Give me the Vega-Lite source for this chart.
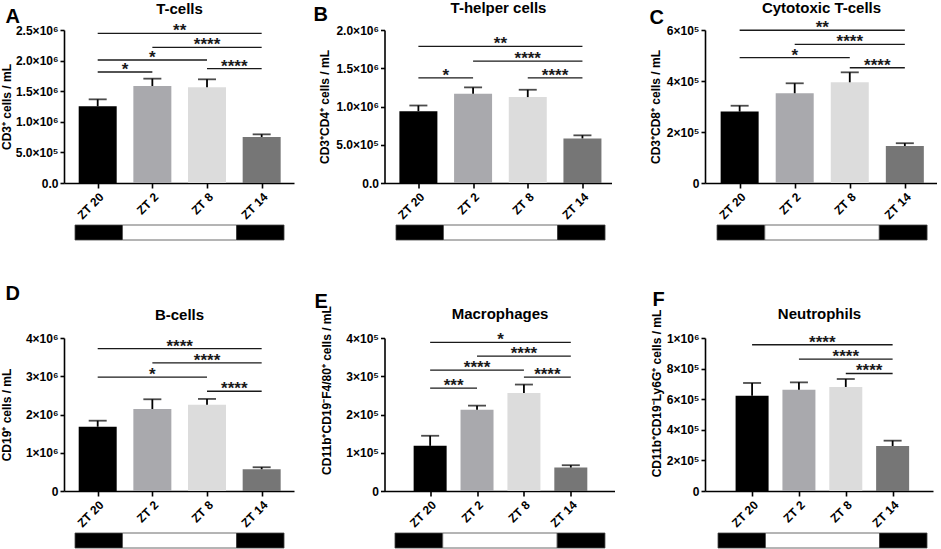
{
  "$schema": "https://vega.github.io/schema/vega-lite/v6.json",
  "background": "white",
  "padding": {"left": 0, "top": 0, "right": 0, "bottom": 0},
  "config": {
    "font": "Liberation Sans",
    "view": {"stroke": null},
    "axis": {
      "grid": false,
      "domainColor": "black",
      "domainWidth": 1.6,
      "tickColor": "black",
      "tickWidth": 1.6,
      "labelColor": "black",
      "labelFontWeight": "bold",
      "labelFontSize": 12,
      "labelOverlap": false,
      "labelFlush": false,
      "titleColor": "black",
      "titleFontWeight": "bold",
      "titleFontSize": 12
    },
    "axisX": {"tickSize": 5, "labelPadding": 3, "labelAngle": -45},
    "axisY": {"tickSize": 4, "labelPadding": 2, "titleBaseline": "middle", "tickCount": 12}
  },
  "datasets": {
    "bars": [
      {"panel": "A", "zt": "ZT 20", "hour": 20, "mean": 1253000, "upper": 1367000},
      {"panel": "A", "zt": "ZT 2", "hour": 26, "mean": 1585000, "upper": 1705000},
      {"panel": "A", "zt": "ZT 8", "hour": 32, "mean": 1563000, "upper": 1694000},
      {"panel": "A", "zt": "ZT 14", "hour": 38, "mean": 752000, "upper": 795000},
      {"panel": "B", "zt": "ZT 20", "hour": 20, "mean": 939000, "upper": 1013000},
      {"panel": "B", "zt": "ZT 2", "hour": 26, "mean": 1167000, "upper": 1250000},
      {"panel": "B", "zt": "ZT 8", "hour": 32, "mean": 1123000, "upper": 1219000},
      {"panel": "B", "zt": "ZT 14", "hour": 38, "mean": 583000, "upper": 623000},
      {"panel": "C", "zt": "ZT 20", "hour": 20, "mean": 280000, "upper": 303000},
      {"panel": "C", "zt": "ZT 2", "hour": 26, "mean": 352000, "upper": 391000},
      {"panel": "C", "zt": "ZT 8", "hour": 32, "mean": 395000, "upper": 434000},
      {"panel": "C", "zt": "ZT 14", "hour": 38, "mean": 145000, "upper": 156000},
      {"panel": "D", "zt": "ZT 20", "hour": 20, "mean": 1680000, "upper": 1838000},
      {"panel": "D", "zt": "ZT 2", "hour": 26, "mean": 2144000, "upper": 2398000},
      {"panel": "D", "zt": "ZT 8", "hour": 32, "mean": 2258000, "upper": 2407000},
      {"panel": "D", "zt": "ZT 14", "hour": 38, "mean": 569000, "upper": 621000},
      {"panel": "E", "zt": "ZT 20", "hour": 20, "mean": 118000, "upper": 144400},
      {"panel": "E", "zt": "ZT 2", "hour": 26, "mean": 212700, "upper": 223200},
      {"panel": "E", "zt": "ZT 8", "hour": 32, "mean": 256500, "upper": 278300},
      {"panel": "E", "zt": "ZT 14", "hour": 38, "mean": 61300, "upper": 67400},
      {"panel": "F", "zt": "ZT 20", "hour": 20, "mean": 623000, "upper": 706000},
      {"panel": "F", "zt": "ZT 2", "hour": 26, "mean": 662000, "upper": 710000},
      {"panel": "F", "zt": "ZT 8", "hour": 32, "mean": 680000, "upper": 732000},
      {"panel": "F", "zt": "ZT 14", "hour": 38, "mean": 294000, "upper": 329000}
    ],
    "brackets": [
      {"panel": "A", "from": 20, "to": 38, "level": 2445000, "stars": "**"},
      {"panel": "A", "from": 26, "to": 38, "level": 2217000, "stars": "****"},
      {"panel": "A", "from": 20, "to": 32, "level": 2010000, "stars": "*"},
      {"panel": "A", "from": 20, "to": 26, "level": 1814000, "stars": "*"},
      {"panel": "A", "from": 32, "to": 38, "level": 1868000, "stars": "****"},
      {"panel": "B", "from": 20, "to": 38, "level": 1785000, "stars": "**"},
      {"panel": "B", "from": 26, "to": 38, "level": 1592000, "stars": "****"},
      {"panel": "B", "from": 20, "to": 26, "level": 1373000, "stars": "*"},
      {"panel": "B", "from": 32, "to": 38, "level": 1373000, "stars": "****"},
      {"panel": "C", "from": 20, "to": 38, "level": 599000, "stars": "**"},
      {"panel": "C", "from": 26, "to": 38, "level": 544000, "stars": "****"},
      {"panel": "C", "from": 20, "to": 32, "level": 492000, "stars": "*"},
      {"panel": "C", "from": 32, "to": 38, "level": 452000, "stars": "****"},
      {"panel": "D", "from": 20, "to": 38, "level": 3720000, "stars": "****"},
      {"panel": "D", "from": 26, "to": 38, "level": 3352000, "stars": "****"},
      {"panel": "D", "from": 20, "to": 32, "level": 2976000, "stars": "*"},
      {"panel": "D", "from": 32, "to": 38, "level": 2608000, "stars": "****"},
      {"panel": "E", "from": 20, "to": 38, "level": 388600, "stars": "*"},
      {"panel": "E", "from": 26, "to": 38, "level": 352700, "stars": "****"},
      {"panel": "E", "from": 20, "to": 32, "level": 316000, "stars": "****"},
      {"panel": "E", "from": 20, "to": 26, "level": 268700, "stars": "***"},
      {"panel": "E", "from": 32, "to": 38, "level": 297600, "stars": "****"},
      {"panel": "F", "from": 20, "to": 38, "level": 956000, "stars": "****"},
      {"panel": "F", "from": 26, "to": 38, "level": 862000, "stars": "****"},
      {"panel": "F", "from": 32, "to": 38, "level": 768000, "stars": "****"}
    ],
    "strip": [
      {"phase": "dark", "start": -5, "end": 0},
      {"phase": "light", "start": 0, "end": 12},
      {"phase": "dark", "start": 12, "end": 17}
    ]
  },
  "bounds": "flush",
  "columns": 3,
  "spacing": {"row": 42, "column": 90.5},
  "concat": [
    {
      "width": 230, "height": 153,
      "resolve": {"axis": {"x": "independent"}},
      "layer": [
        {
          "data": {"name": "bars"},
          "transform": [{"filter": "datum.panel == 'A'"}],
          "mark": {"type": "bar", "width": 38},
          "encoding": {
            "x": {"field": "hour", "type": "quantitative", "title": null, "scale": {"domain": [16.85, 41], "nice": false, "zero": false}, "axis": {"values": [20, 26, 32, 38], "labelExpr": "'ZT ' + (datum.value % 24)"}},
            "y": {"field": "mean", "type": "quantitative", "stack": null, "title": "CD3⁺ cells / mL", "scale": {"domain": [0, 2500000], "nice": false}, "axis": {"values": [0, 500000, 1000000, 1500000, 2000000, 2500000], "tickCount": 12, "labelExpr": "datum.value == 0 ? '0.0' : datum.value < 1000000 ? format(datum.value / 100000, '.1f') + '×10⁵' : format(datum.value / 1000000, '.1f') + '×10⁶'", "titleX": -58}},
            "color": {"field": "zt", "type": "nominal", "legend": null, "scale": {"domain": ["ZT 20", "ZT 2", "ZT 8", "ZT 14"], "range": ["#000000", "#a9a9ad", "#dcdcdc", "#767676"]}}
          }
        },
        {
          "data": {"name": "bars"},
          "transform": [{"filter": "datum.panel == 'A'"}],
          "mark": {"type": "rule", "color": "black", "strokeWidth": 1.8},
          "encoding": {
            "x": {"field": "hour", "type": "quantitative", "axis": null, "scale": {"domain": [16.85, 41], "nice": false, "zero": false}},
            "y": {"field": "mean", "type": "quantitative", "title": "CD3⁺ cells / mL", "scale": {"domain": [0, 2500000], "nice": false}},
            "y2": {"field": "upper"}
          }
        },
        {
          "data": {"name": "bars"},
          "transform": [{"filter": "datum.panel == 'A'"}],
          "mark": {"type": "tick", "orient": "horizontal", "color": "black", "size": 18, "thickness": 1.8},
          "encoding": {
            "x": {"field": "hour", "type": "quantitative", "axis": null, "scale": {"domain": [16.85, 41], "nice": false, "zero": false}},
            "y": {"field": "upper", "type": "quantitative", "title": "CD3⁺ cells / mL", "scale": {"domain": [0, 2500000], "nice": false}}
          }
        },
        {
          "data": {"name": "brackets"},
          "transform": [{"filter": "datum.panel == 'A'"}],
          "mark": {"type": "rule", "color": "#1a1a1a", "strokeWidth": 1.3},
          "encoding": {
            "x": {"field": "from", "type": "quantitative", "title": "T-cells", "scale": {"domain": [16.85, 41], "nice": false, "zero": false}, "axis": {"orient": "top", "domain": false, "ticks": false, "labels": false, "titleFontSize": 15, "titleAngle": 0, "titleBaseline": "alphabetic", "titleY": -17}},
            "x2": {"field": "to"},
            "y": {"field": "level", "type": "quantitative", "title": "CD3⁺ cells / mL", "scale": {"domain": [0, 2500000], "nice": false}}
          }
        },
        {
          "data": {"name": "brackets"},
          "transform": [{"filter": "datum.panel == 'A'"}, {"fold": ["from", "to"], "as": ["end", "hour"]}],
          "mark": {"type": "text", "fontSize": 17, "fontWeight": "bold", "baseline": "alphabetic", "dy": 3, "color": "#1a1a1a"},
          "encoding": {
            "x": {"aggregate": "mean", "field": "hour", "type": "quantitative", "title": "A", "scale": {"domain": [16.85, 41], "nice": false, "zero": false}, "axis": {"orient": "top", "domain": false, "ticks": false, "labels": false, "titleFontSize": 20, "titleAngle": 0, "titleAlign": "left", "titleBaseline": "alphabetic", "titleX": -59, "titleY": -8}},
            "y": {"field": "level", "type": "quantitative", "title": "CD3⁺ cells / mL", "scale": {"domain": [0, 2500000], "nice": false}},
            "text": {"field": "stars"}
          }
        }
      ]
    },
    {
      "width": 227, "height": 153,
      "resolve": {"axis": {"x": "independent"}},
      "layer": [
        {
          "data": {"name": "bars"},
          "transform": [{"filter": "datum.panel == 'B'"}],
          "mark": {"type": "bar", "width": 38},
          "encoding": {
            "x": {"field": "hour", "type": "quantitative", "title": null, "scale": {"domain": [16.83, 40.64], "nice": false, "zero": false}, "axis": {"values": [20, 26, 32, 38], "labelExpr": "'ZT ' + (datum.value % 24)"}},
            "y": {"field": "mean", "type": "quantitative", "stack": null, "title": "CD3⁺CD4⁺ cells / mL", "scale": {"domain": [0, 2000000], "nice": false}, "axis": {"values": [0, 500000, 1000000, 1500000, 2000000], "tickCount": 12, "labelExpr": "datum.value == 0 ? '0.0' : datum.value < 1000000 ? format(datum.value / 100000, '.1f') + '×10⁵' : format(datum.value / 1000000, '.1f') + '×10⁶'", "titleX": -60}},
            "color": {"field": "zt", "type": "nominal", "legend": null, "scale": {"domain": ["ZT 20", "ZT 2", "ZT 8", "ZT 14"], "range": ["#000000", "#a9a9ad", "#dcdcdc", "#767676"]}}
          }
        },
        {
          "data": {"name": "bars"},
          "transform": [{"filter": "datum.panel == 'B'"}],
          "mark": {"type": "rule", "color": "black", "strokeWidth": 1.8},
          "encoding": {
            "x": {"field": "hour", "type": "quantitative", "axis": null, "scale": {"domain": [16.83, 40.64], "nice": false, "zero": false}},
            "y": {"field": "mean", "type": "quantitative", "title": "CD3⁺CD4⁺ cells / mL", "scale": {"domain": [0, 2000000], "nice": false}},
            "y2": {"field": "upper"}
          }
        },
        {
          "data": {"name": "bars"},
          "transform": [{"filter": "datum.panel == 'B'"}],
          "mark": {"type": "tick", "orient": "horizontal", "color": "black", "size": 18, "thickness": 1.8},
          "encoding": {
            "x": {"field": "hour", "type": "quantitative", "axis": null, "scale": {"domain": [16.83, 40.64], "nice": false, "zero": false}},
            "y": {"field": "upper", "type": "quantitative", "title": "CD3⁺CD4⁺ cells / mL", "scale": {"domain": [0, 2000000], "nice": false}}
          }
        },
        {
          "data": {"name": "brackets"},
          "transform": [{"filter": "datum.panel == 'B'"}],
          "mark": {"type": "rule", "color": "#1a1a1a", "strokeWidth": 1.3},
          "encoding": {
            "x": {"field": "from", "type": "quantitative", "title": "T-helper cells", "scale": {"domain": [16.83, 40.64], "nice": false, "zero": false}, "axis": {"orient": "top", "domain": false, "ticks": false, "labels": false, "titleFontSize": 15, "titleAngle": 0, "titleBaseline": "alphabetic", "titleY": -18}},
            "x2": {"field": "to"},
            "y": {"field": "level", "type": "quantitative", "title": "CD3⁺CD4⁺ cells / mL", "scale": {"domain": [0, 2000000], "nice": false}}
          }
        },
        {
          "data": {"name": "brackets"},
          "transform": [{"filter": "datum.panel == 'B'"}, {"fold": ["from", "to"], "as": ["end", "hour"]}],
          "mark": {"type": "text", "fontSize": 17, "fontWeight": "bold", "baseline": "alphabetic", "dy": 3, "color": "#1a1a1a"},
          "encoding": {
            "x": {"aggregate": "mean", "field": "hour", "type": "quantitative", "title": "B", "scale": {"domain": [16.83, 40.64], "nice": false, "zero": false}, "axis": {"orient": "top", "domain": false, "ticks": false, "labels": false, "titleFontSize": 20, "titleAngle": 0, "titleAlign": "left", "titleBaseline": "alphabetic", "titleX": -71.5, "titleY": -10}},
            "y": {"field": "level", "type": "quantitative", "title": "CD3⁺CD4⁺ cells / mL", "scale": {"domain": [0, 2000000], "nice": false}},
            "text": {"field": "stars"}
          }
        }
      ]
    },
    {
      "width": 232, "height": 153,
      "resolve": {"axis": {"x": "independent"}},
      "layer": [
        {
          "data": {"name": "bars"},
          "transform": [{"filter": "datum.panel == 'C'"}],
          "mark": {"type": "bar", "width": 38},
          "encoding": {
            "x": {"field": "hour", "type": "quantitative", "title": null, "scale": {"domain": [16.77, 40.96], "nice": false, "zero": false}, "axis": {"values": [20, 26, 32, 38], "labelExpr": "'ZT ' + (datum.value % 24)"}},
            "y": {"field": "mean", "type": "quantitative", "stack": null, "title": "CD3⁺CD8⁺ cells / mL", "scale": {"domain": [0, 600000], "nice": false}, "axis": {"values": [0, 200000, 400000, 600000], "tickCount": 12, "labelExpr": "datum.value == 0 ? '0' : format(datum.value / 100000, 'd') + '×10⁵'", "titleX": -50}},
            "color": {"field": "zt", "type": "nominal", "legend": null, "scale": {"domain": ["ZT 20", "ZT 2", "ZT 8", "ZT 14"], "range": ["#000000", "#a9a9ad", "#dcdcdc", "#767676"]}}
          }
        },
        {
          "data": {"name": "bars"},
          "transform": [{"filter": "datum.panel == 'C'"}],
          "mark": {"type": "rule", "color": "black", "strokeWidth": 1.8},
          "encoding": {
            "x": {"field": "hour", "type": "quantitative", "axis": null, "scale": {"domain": [16.77, 40.96], "nice": false, "zero": false}},
            "y": {"field": "mean", "type": "quantitative", "title": "CD3⁺CD8⁺ cells / mL", "scale": {"domain": [0, 600000], "nice": false}},
            "y2": {"field": "upper"}
          }
        },
        {
          "data": {"name": "bars"},
          "transform": [{"filter": "datum.panel == 'C'"}],
          "mark": {"type": "tick", "orient": "horizontal", "color": "black", "size": 18, "thickness": 1.8},
          "encoding": {
            "x": {"field": "hour", "type": "quantitative", "axis": null, "scale": {"domain": [16.77, 40.96], "nice": false, "zero": false}},
            "y": {"field": "upper", "type": "quantitative", "title": "CD3⁺CD8⁺ cells / mL", "scale": {"domain": [0, 600000], "nice": false}}
          }
        },
        {
          "data": {"name": "brackets"},
          "transform": [{"filter": "datum.panel == 'C'"}],
          "mark": {"type": "rule", "color": "#1a1a1a", "strokeWidth": 1.3},
          "encoding": {
            "x": {"field": "from", "type": "quantitative", "title": "Cytotoxic T-cells", "scale": {"domain": [16.77, 40.96], "nice": false, "zero": false}, "axis": {"orient": "top", "domain": false, "ticks": false, "labels": false, "titleFontSize": 15, "titleAngle": 0, "titleBaseline": "alphabetic", "titleY": -17.5}},
            "x2": {"field": "to"},
            "y": {"field": "level", "type": "quantitative", "title": "CD3⁺CD8⁺ cells / mL", "scale": {"domain": [0, 600000], "nice": false}}
          }
        },
        {
          "data": {"name": "brackets"},
          "transform": [{"filter": "datum.panel == 'C'"}, {"fold": ["from", "to"], "as": ["end", "hour"]}],
          "mark": {"type": "text", "fontSize": 17, "fontWeight": "bold", "baseline": "alphabetic", "dy": 3, "color": "#1a1a1a"},
          "encoding": {
            "x": {"aggregate": "mean", "field": "hour", "type": "quantitative", "title": "C", "scale": {"domain": [16.77, 40.96], "nice": false, "zero": false}, "axis": {"orient": "top", "domain": false, "ticks": false, "labels": false, "titleFontSize": 20, "titleAngle": 0, "titleAlign": "left", "titleBaseline": "alphabetic", "titleX": -56, "titleY": -7}},
            "y": {"field": "level", "type": "quantitative", "title": "CD3⁺CD8⁺ cells / mL", "scale": {"domain": [0, 600000], "nice": false}},
            "text": {"field": "stars"}
          }
        }
      ]
    },
    {
      "width": 230, "height": 15,
      "data": {"name": "strip"},
      "mark": {"type": "rect", "stroke": "#444444", "strokeWidth": 0.8},
      "encoding": {
        "x": {"field": "start", "type": "quantitative", "axis": null, "scale": {"domain": [-6.16, 18.05], "nice": false, "zero": false}},
        "x2": {"field": "end"},
        "fill": {"field": "phase", "type": "nominal", "legend": null, "scale": {"domain": ["dark", "light"], "range": ["black", "white"]}}
      }
    },
    {
      "width": 227, "height": 15,
      "data": {"name": "strip"},
      "mark": {"type": "rect", "stroke": "#444444", "strokeWidth": 0.8},
      "encoding": {
        "x": {"field": "start", "type": "quantitative", "axis": null, "scale": {"domain": [-6.21, 17.68], "nice": false, "zero": false}},
        "x2": {"field": "end"},
        "fill": {"field": "phase", "type": "nominal", "legend": null, "scale": {"domain": ["dark", "light"], "range": ["black", "white"]}}
      }
    },
    {
      "width": 232, "height": 15,
      "data": {"name": "strip"},
      "mark": {"type": "rect", "stroke": "#444444", "strokeWidth": 0.8},
      "encoding": {
        "x": {"field": "start", "type": "quantitative", "axis": null, "scale": {"domain": [-6.26, 18.04], "nice": false, "zero": false}},
        "x2": {"field": "end"},
        "fill": {"field": "phase", "type": "nominal", "legend": null, "scale": {"domain": ["dark", "light"], "range": ["black", "white"]}}
      }
    },
    {"width": 1, "height": 14, "data": {"values": []}, "mark": "point"},
    {"width": 1, "height": 14, "data": {"values": []}, "mark": "point"},
    {"width": 1, "height": 14, "data": {"values": []}, "mark": "point"},
    {
      "width": 230, "height": 153,
      "resolve": {"axis": {"x": "independent"}},
      "layer": [
        {
          "data": {"name": "bars"},
          "transform": [{"filter": "datum.panel == 'D'"}],
          "mark": {"type": "bar", "width": 38},
          "encoding": {
            "x": {"field": "hour", "type": "quantitative", "title": null, "scale": {"domain": [16.85, 41], "nice": false, "zero": false}, "axis": {"values": [20, 26, 32, 38], "labelExpr": "'ZT ' + (datum.value % 24)"}},
            "y": {"field": "mean", "type": "quantitative", "stack": null, "title": "CD19⁺ cells / mL", "scale": {"domain": [0, 4000000], "nice": false}, "axis": {"values": [0, 1000000, 2000000, 3000000, 4000000], "tickCount": 12, "labelExpr": "datum.value == 0 ? '0' : format(datum.value / 1000000, 'd') + '×10⁶'", "titleX": -58}},
            "color": {"field": "zt", "type": "nominal", "legend": null, "scale": {"domain": ["ZT 20", "ZT 2", "ZT 8", "ZT 14"], "range": ["#000000", "#a9a9ad", "#dcdcdc", "#767676"]}}
          }
        },
        {
          "data": {"name": "bars"},
          "transform": [{"filter": "datum.panel == 'D'"}],
          "mark": {"type": "rule", "color": "black", "strokeWidth": 1.8},
          "encoding": {
            "x": {"field": "hour", "type": "quantitative", "axis": null, "scale": {"domain": [16.85, 41], "nice": false, "zero": false}},
            "y": {"field": "mean", "type": "quantitative", "title": "CD19⁺ cells / mL", "scale": {"domain": [0, 4000000], "nice": false}},
            "y2": {"field": "upper"}
          }
        },
        {
          "data": {"name": "bars"},
          "transform": [{"filter": "datum.panel == 'D'"}],
          "mark": {"type": "tick", "orient": "horizontal", "color": "black", "size": 18, "thickness": 1.8},
          "encoding": {
            "x": {"field": "hour", "type": "quantitative", "axis": null, "scale": {"domain": [16.85, 41], "nice": false, "zero": false}},
            "y": {"field": "upper", "type": "quantitative", "title": "CD19⁺ cells / mL", "scale": {"domain": [0, 4000000], "nice": false}}
          }
        },
        {
          "data": {"name": "brackets"},
          "transform": [{"filter": "datum.panel == 'D'"}],
          "mark": {"type": "rule", "color": "#1a1a1a", "strokeWidth": 1.3},
          "encoding": {
            "x": {"field": "from", "type": "quantitative", "title": "B-cells", "scale": {"domain": [16.85, 41], "nice": false, "zero": false}, "axis": {"orient": "top", "domain": false, "ticks": false, "labels": false, "titleFontSize": 15, "titleAngle": 0, "titleBaseline": "alphabetic", "titleY": -19}},
            "x2": {"field": "to"},
            "y": {"field": "level", "type": "quantitative", "title": "CD19⁺ cells / mL", "scale": {"domain": [0, 4000000], "nice": false}}
          }
        },
        {
          "data": {"name": "brackets"},
          "transform": [{"filter": "datum.panel == 'D'"}, {"fold": ["from", "to"], "as": ["end", "hour"]}],
          "mark": {"type": "text", "fontSize": 17, "fontWeight": "bold", "baseline": "alphabetic", "dy": 3, "color": "#1a1a1a"},
          "encoding": {
            "x": {"aggregate": "mean", "field": "hour", "type": "quantitative", "title": "D", "scale": {"domain": [16.85, 41], "nice": false, "zero": false}, "axis": {"orient": "top", "domain": false, "ticks": false, "labels": false, "titleFontSize": 20, "titleAngle": 0, "titleAlign": "left", "titleBaseline": "alphabetic", "titleX": -59, "titleY": -39}},
            "y": {"field": "level", "type": "quantitative", "title": "CD19⁺ cells / mL", "scale": {"domain": [0, 4000000], "nice": false}},
            "text": {"field": "stars"}
          }
        }
      ]
    },
    {
      "width": 230, "height": 153,
      "resolve": {"axis": {"x": "independent"}},
      "layer": [
        {
          "data": {"name": "bars"},
          "transform": [{"filter": "datum.panel == 'E'"}],
          "mark": {"type": "bar", "width": 33},
          "encoding": {
            "x": {"field": "hour", "type": "quantitative", "title": null, "scale": {"domain": [14.8, 42.95], "nice": false, "zero": false}, "axis": {"values": [20, 26, 32, 38], "labelExpr": "'ZT ' + (datum.value % 24)"}},
            "y": {"field": "mean", "type": "quantitative", "stack": null, "title": "CD11b⁺CD19⁻F4/80⁺ cells / mL", "scale": {"domain": [0, 400000], "nice": false}, "axis": {"values": [0, 100000, 200000, 300000, 400000], "tickCount": 12, "labelExpr": "datum.value == 0 ? '0' : format(datum.value / 100000, 'd') + '×10⁵'", "titleY": 52, "titleX": -58.5}},
            "color": {"field": "zt", "type": "nominal", "legend": null, "scale": {"domain": ["ZT 20", "ZT 2", "ZT 8", "ZT 14"], "range": ["#000000", "#a9a9ad", "#dcdcdc", "#767676"]}}
          }
        },
        {
          "data": {"name": "bars"},
          "transform": [{"filter": "datum.panel == 'E'"}],
          "mark": {"type": "rule", "color": "black", "strokeWidth": 1.8},
          "encoding": {
            "x": {"field": "hour", "type": "quantitative", "axis": null, "scale": {"domain": [14.8, 42.95], "nice": false, "zero": false}},
            "y": {"field": "mean", "type": "quantitative", "title": "CD11b⁺CD19⁻F4/80⁺ cells / mL", "scale": {"domain": [0, 400000], "nice": false}},
            "y2": {"field": "upper"}
          }
        },
        {
          "data": {"name": "bars"},
          "transform": [{"filter": "datum.panel == 'E'"}],
          "mark": {"type": "tick", "orient": "horizontal", "color": "black", "size": 18, "thickness": 1.8},
          "encoding": {
            "x": {"field": "hour", "type": "quantitative", "axis": null, "scale": {"domain": [14.8, 42.95], "nice": false, "zero": false}},
            "y": {"field": "upper", "type": "quantitative", "title": "CD11b⁺CD19⁻F4/80⁺ cells / mL", "scale": {"domain": [0, 400000], "nice": false}}
          }
        },
        {
          "data": {"name": "brackets"},
          "transform": [{"filter": "datum.panel == 'E'"}],
          "mark": {"type": "rule", "color": "#1a1a1a", "strokeWidth": 1.3},
          "encoding": {
            "x": {"field": "from", "type": "quantitative", "title": "Macrophages", "scale": {"domain": [14.8, 42.95], "nice": false, "zero": false}, "axis": {"orient": "top", "domain": false, "ticks": false, "labels": false, "titleFontSize": 15, "titleAngle": 0, "titleBaseline": "alphabetic", "titleY": -20}},
            "x2": {"field": "to"},
            "y": {"field": "level", "type": "quantitative", "title": "CD11b⁺CD19⁻F4/80⁺ cells / mL", "scale": {"domain": [0, 400000], "nice": false}}
          }
        },
        {
          "data": {"name": "brackets"},
          "transform": [{"filter": "datum.panel == 'E'"}, {"fold": ["from", "to"], "as": ["end", "hour"]}],
          "mark": {"type": "text", "fontSize": 17, "fontWeight": "bold", "baseline": "alphabetic", "dy": 3, "color": "#1a1a1a"},
          "encoding": {
            "x": {"aggregate": "mean", "field": "hour", "type": "quantitative", "title": "E", "scale": {"domain": [14.8, 42.95], "nice": false, "zero": false}, "axis": {"orient": "top", "domain": false, "ticks": false, "labels": false, "titleFontSize": 20, "titleAngle": 0, "titleAlign": "left", "titleBaseline": "alphabetic", "titleX": -70.5, "titleY": -31}},
            "y": {"field": "level", "type": "quantitative", "title": "CD11b⁺CD19⁻F4/80⁺ cells / mL", "scale": {"domain": [0, 400000], "nice": false}},
            "text": {"field": "stars"}
          }
        }
      ]
    },
    {
      "width": 228, "height": 153,
      "resolve": {"axis": {"x": "independent"}},
      "layer": [
        {
          "data": {"name": "bars"},
          "transform": [{"filter": "datum.panel == 'F'"}],
          "mark": {"type": "bar", "width": 33},
          "encoding": {
            "x": {"field": "hour", "type": "quantitative", "title": null, "scale": {"domain": [14.61, 42.53], "nice": false, "zero": false}, "axis": {"values": [20, 26, 32, 38], "labelExpr": "'ZT ' + (datum.value % 24)"}},
            "y": {"field": "mean", "type": "quantitative", "stack": null, "title": "CD11b⁺CD19⁻Ly6G⁺ cells / mL", "scale": {"domain": [0, 1000000], "nice": false}, "axis": {"values": [0, 200000, 400000, 600000, 800000, 1000000], "tickCount": 12, "labelExpr": "datum.value == 0 ? '0' : datum.value >= 1000000 ? '1×10⁶' : format(datum.value / 100000, 'd') + '×10⁵'", "titleY": 55, "titleX": -49}},
            "color": {"field": "zt", "type": "nominal", "legend": null, "scale": {"domain": ["ZT 20", "ZT 2", "ZT 8", "ZT 14"], "range": ["#000000", "#a9a9ad", "#dcdcdc", "#767676"]}}
          }
        },
        {
          "data": {"name": "bars"},
          "transform": [{"filter": "datum.panel == 'F'"}],
          "mark": {"type": "rule", "color": "black", "strokeWidth": 1.8},
          "encoding": {
            "x": {"field": "hour", "type": "quantitative", "axis": null, "scale": {"domain": [14.61, 42.53], "nice": false, "zero": false}},
            "y": {"field": "mean", "type": "quantitative", "title": "CD11b⁺CD19⁻Ly6G⁺ cells / mL", "scale": {"domain": [0, 1000000], "nice": false}},
            "y2": {"field": "upper"}
          }
        },
        {
          "data": {"name": "bars"},
          "transform": [{"filter": "datum.panel == 'F'"}],
          "mark": {"type": "tick", "orient": "horizontal", "color": "black", "size": 18, "thickness": 1.8},
          "encoding": {
            "x": {"field": "hour", "type": "quantitative", "axis": null, "scale": {"domain": [14.61, 42.53], "nice": false, "zero": false}},
            "y": {"field": "upper", "type": "quantitative", "title": "CD11b⁺CD19⁻Ly6G⁺ cells / mL", "scale": {"domain": [0, 1000000], "nice": false}}
          }
        },
        {
          "data": {"name": "brackets"},
          "transform": [{"filter": "datum.panel == 'F'"}],
          "mark": {"type": "rule", "color": "#1a1a1a", "strokeWidth": 1.3},
          "encoding": {
            "x": {"field": "from", "type": "quantitative", "title": "Neutrophils", "scale": {"domain": [14.61, 42.53], "nice": false, "zero": false}, "axis": {"orient": "top", "domain": false, "ticks": false, "labels": false, "titleFontSize": 15, "titleAngle": 0, "titleBaseline": "alphabetic", "titleY": -20}},
            "x2": {"field": "to"},
            "y": {"field": "level", "type": "quantitative", "title": "CD11b⁺CD19⁻Ly6G⁺ cells / mL", "scale": {"domain": [0, 1000000], "nice": false}}
          }
        },
        {
          "data": {"name": "brackets"},
          "transform": [{"filter": "datum.panel == 'F'"}, {"fold": ["from", "to"], "as": ["end", "hour"]}],
          "mark": {"type": "text", "fontSize": 17, "fontWeight": "bold", "baseline": "alphabetic", "dy": 3, "color": "#1a1a1a"},
          "encoding": {
            "x": {"aggregate": "mean", "field": "hour", "type": "quantitative", "title": "F", "scale": {"domain": [14.61, 42.53], "nice": false, "zero": false}, "axis": {"orient": "top", "domain": false, "ticks": false, "labels": false, "titleFontSize": 20, "titleAngle": 0, "titleAlign": "left", "titleBaseline": "alphabetic", "titleX": -53, "titleY": -33}},
            "y": {"field": "level", "type": "quantitative", "title": "CD11b⁺CD19⁻Ly6G⁺ cells / mL", "scale": {"domain": [0, 1000000], "nice": false}},
            "text": {"field": "stars"}
          }
        }
      ]
    },
    {
      "width": 230, "height": 15,
      "data": {"name": "strip"},
      "mark": {"type": "rect", "stroke": "#444444", "strokeWidth": 0.8},
      "encoding": {
        "x": {"field": "start", "type": "quantitative", "axis": null, "scale": {"domain": [-6.16, 18.05], "nice": false, "zero": false}},
        "x2": {"field": "end"},
        "fill": {"field": "phase", "type": "nominal", "legend": null, "scale": {"domain": ["dark", "light"], "range": ["black", "white"]}}
      }
    },
    {
      "width": 230, "height": 15,
      "data": {"name": "strip"},
      "mark": {"type": "rect", "stroke": "#444444", "strokeWidth": 0.8},
      "encoding": {
        "x": {"field": "start", "type": "quantitative", "axis": null, "scale": {"domain": [-6.1, 18.0], "nice": false, "zero": false}},
        "x2": {"field": "end"},
        "fill": {"field": "phase", "type": "nominal", "legend": null, "scale": {"domain": ["dark", "light"], "range": ["black", "white"]}}
      }
    },
    {
      "width": 228, "height": 15,
      "data": {"name": "strip"},
      "mark": {"type": "rect", "stroke": "#444444", "strokeWidth": 0.8},
      "encoding": {
        "x": {"field": "start", "type": "quantitative", "axis": null, "scale": {"domain": [-6.37, 17.63], "nice": false, "zero": false}},
        "x2": {"field": "end"},
        "fill": {"field": "phase", "type": "nominal", "legend": null, "scale": {"domain": ["dark", "light"], "range": ["black", "white"]}}
      }
    }
  ]
}
